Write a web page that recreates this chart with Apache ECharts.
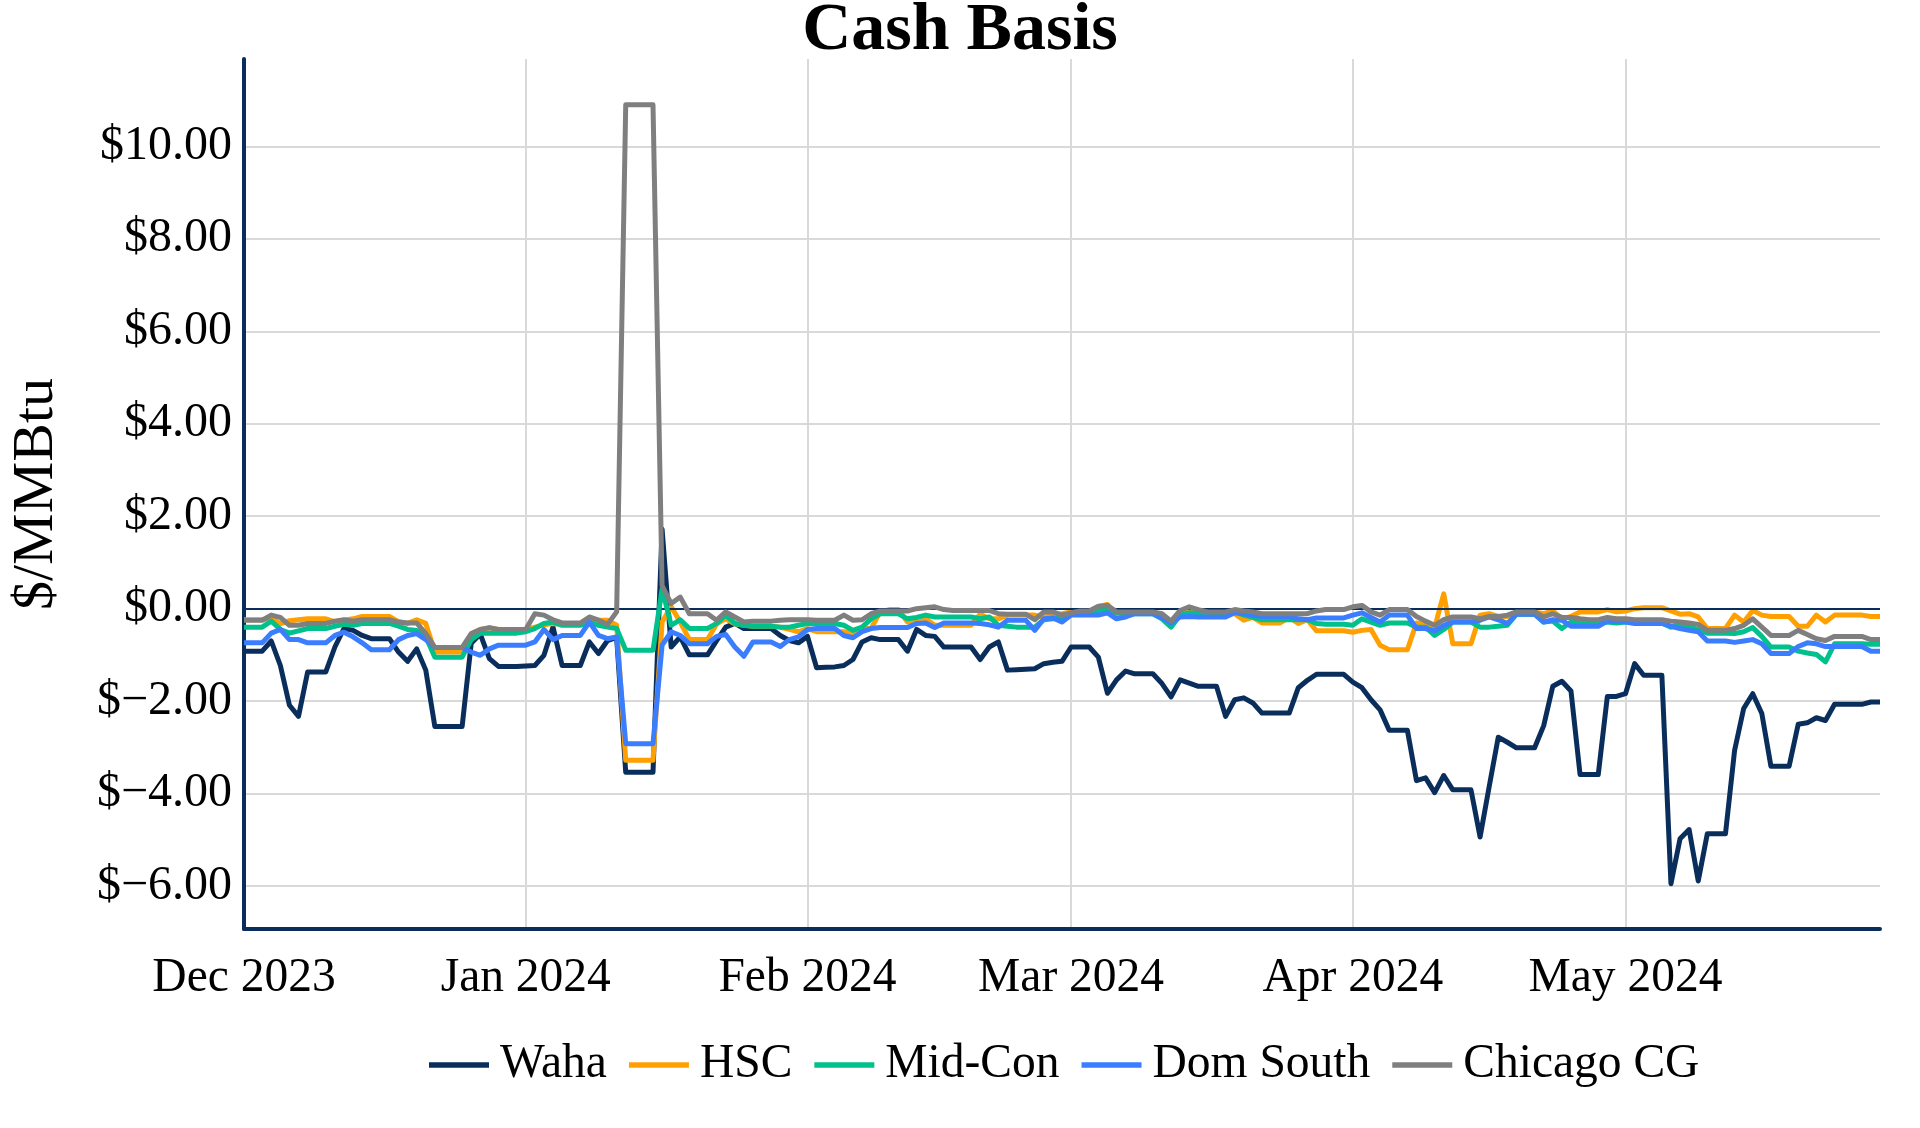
<!DOCTYPE html>
<html>
<head>
<meta charset="utf-8">
<script src="https://cdn.jsdelivr.net/npm/echarts@6/dist/echarts.min.js"></script>
<style>
  html, body { margin: 0; padding: 0; background: #ffffff; }
  #chart { width: 1920px; height: 1128px; }
</style>
</head>
<body>
<div id="chart"></div>
<script>
// ---- Data (daily, 2023-12-01 .. 2024-05-29) ----
const startDate = '2023-12-01';
const dayCount = 181;
const monthTickLabels = ['Dec 2023', 'Jan 2024', 'Feb 2024', 'Mar 2024', 'Apr 2024', 'May 2024'];
const seriesNames = ['Waha', 'HSC', 'Mid-Con', 'Dom South', 'Chicago CG'];

const wahaValues = [
  // Dec
  -0.92,-0.92,-0.92,-0.70,-1.23,-2.09,-2.33,-1.37,-1.37,-1.37,-0.83,-0.43,-0.47,-0.58,-0.65,-0.65,-0.65,-0.94,-1.14,-0.87,-1.33,-2.55,-2.55,-2.55,-2.55,-0.75,-0.55,-1.08,-1.25,-1.25,-1.25,
  // Jan
  -1.24,-1.23,-1.01,-0.40,-1.23,-1.23,-1.23,-0.72,-0.97,-0.69,-0.62,-3.54,-3.54,-3.54,-3.54,1.72,-0.83,-0.61,-1.00,-1.00,-1.00,-0.69,-0.40,-0.32,-0.43,-0.43,-0.43,-0.43,-0.58,-0.69,-0.74,
  // Feb
  -0.60,-1.28,-1.27,-1.26,-1.23,-1.10,-0.72,-0.63,-0.67,-0.67,-0.67,-0.92,-0.45,-0.58,-0.60,-0.83,-0.83,-0.83,-0.83,-1.10,-0.83,-0.72,-1.33,-1.32,-1.31,-1.30,-1.19,-1.16,-1.14,
  // Mar
  -0.83,-0.83,-0.83,-1.05,-1.83,-1.54,-1.35,-1.41,-1.41,-1.41,-1.62,-1.91,-1.54,-1.61,-1.68,-1.68,-1.68,-2.33,-1.97,-1.93,-2.04,-2.26,-2.26,-2.26,-2.26,-1.71,-1.55,-1.42,-1.42,-1.42,-1.42,
  // Apr
  -1.59,-1.71,-1.97,-2.19,-2.63,-2.63,-2.63,-3.72,-3.66,-3.98,-3.61,-3.92,-3.92,-3.92,-4.94,-3.85,-2.78,-2.89,-3.01,-3.01,-3.01,-2.53,-1.68,-1.57,-1.78,-3.59,-3.59,-3.59,-1.90,-1.90,
  // May
  -1.84,-1.19,-1.44,-1.44,-1.44,-5.95,-4.98,-4.78,-5.89,-4.87,-4.87,-4.87,-3.07,-2.16,-1.84,-2.27,-3.41,-3.41,-3.41,-2.50,-2.47,-2.36,-2.42,-2.07,-2.07,-2.07,-2.07,-2.02,-2.02
];

const hscValues = [
  -0.24,-0.24,-0.24,-0.20,-0.33,-0.26,-0.24,-0.22,-0.22,-0.22,-0.28,-0.25,-0.22,-0.17,-0.17,-0.17,-0.17,-0.28,-0.32,-0.24,-0.32,-0.94,-0.94,-0.94,-0.94,-0.55,-0.45,-0.42,-0.45,-0.45,-0.45,
  -0.45,-0.40,-0.35,-0.32,-0.34,-0.34,-0.34,-0.22,-0.25,-0.25,-0.36,-3.28,-3.28,-3.28,-3.28,-0.29,0.04,-0.29,-0.67,-0.67,-0.67,-0.33,-0.22,-0.33,-0.36,-0.38,-0.38,-0.38,-0.40,-0.45,-0.50,
  -0.43,-0.50,-0.50,-0.50,-0.50,-0.53,-0.43,-0.43,-0.07,-0.02,-0.02,-0.29,-0.29,-0.22,-0.36,-0.36,-0.36,-0.36,-0.36,-0.12,-0.22,-0.22,-0.14,-0.14,-0.14,-0.14,-0.18,-0.14,-0.11,
  -0.07,-0.05,-0.05,0.04,0.09,-0.18,-0.12,-0.09,-0.09,-0.09,-0.18,-0.32,-0.11,-0.07,-0.07,-0.07,-0.07,-0.07,-0.11,-0.25,-0.19,-0.31,-0.31,-0.31,-0.19,-0.32,-0.24,-0.48,-0.48,-0.48,-0.48,
  -0.51,-0.47,-0.45,-0.79,-0.89,-0.89,-0.89,-0.31,-0.34,-0.41,0.32,-0.76,-0.76,-0.76,-0.14,-0.11,-0.17,-0.17,-0.07,-0.07,-0.07,-0.11,-0.05,-0.22,-0.17,-0.07,-0.07,-0.07,-0.02,-0.07,
  -0.05,0.00,0.02,0.02,0.02,-0.05,-0.12,-0.11,-0.18,-0.43,-0.43,-0.43,-0.14,-0.29,-0.04,-0.14,-0.17,-0.17,-0.17,-0.38,-0.38,-0.14,-0.29,-0.14,-0.14,-0.14,-0.14,-0.17,-0.17
];

const midConValues = [
  -0.40,-0.40,-0.40,-0.27,-0.45,-0.53,-0.48,-0.43,-0.43,-0.43,-0.38,-0.34,-0.36,-0.32,-0.32,-0.32,-0.32,-0.38,-0.45,-0.47,-0.61,-1.05,-1.05,-1.05,-1.05,-0.67,-0.53,-0.53,-0.53,-0.53,-0.53,
  -0.50,-0.43,-0.32,-0.29,-0.36,-0.36,-0.36,-0.29,-0.36,-0.40,-0.43,-0.90,-0.90,-0.90,-0.90,0.43,-0.36,-0.24,-0.43,-0.43,-0.43,-0.32,-0.14,-0.32,-0.36,-0.38,-0.38,-0.38,-0.40,-0.40,-0.36,
  -0.32,-0.32,-0.32,-0.32,-0.36,-0.47,-0.40,-0.22,-0.11,-0.11,-0.11,-0.22,-0.19,-0.14,-0.18,-0.18,-0.18,-0.18,-0.18,-0.22,-0.18,-0.36,-0.38,-0.40,-0.40,-0.40,-0.24,-0.22,-0.18,
  -0.11,-0.07,-0.07,-0.04,0.00,-0.09,-0.11,-0.11,-0.11,-0.11,-0.22,-0.40,-0.14,-0.09,-0.11,-0.11,-0.11,-0.11,-0.05,-0.14,-0.19,-0.24,-0.24,-0.24,-0.24,-0.24,-0.24,-0.32,-0.34,-0.34,-0.34,
  -0.36,-0.22,-0.29,-0.36,-0.31,-0.31,-0.31,-0.40,-0.40,-0.58,-0.45,-0.29,-0.29,-0.29,-0.40,-0.40,-0.38,-0.36,-0.12,-0.12,-0.12,-0.29,-0.27,-0.43,-0.29,-0.29,-0.31,-0.31,-0.29,-0.31,
  -0.29,-0.29,-0.31,-0.31,-0.31,-0.40,-0.36,-0.40,-0.45,-0.53,-0.53,-0.53,-0.54,-0.50,-0.41,-0.60,-0.83,-0.83,-0.83,-0.92,-0.96,-0.99,-1.15,-0.76,-0.76,-0.76,-0.76,-0.77,-0.77
];

const domSouthValues = [
  -0.74,-0.74,-0.74,-0.53,-0.45,-0.67,-0.67,-0.74,-0.74,-0.74,-0.58,-0.51,-0.61,-0.74,-0.89,-0.89,-0.89,-0.67,-0.58,-0.54,-0.67,-0.84,-0.84,-0.84,-0.84,-0.94,-1.01,-0.87,-0.79,-0.79,-0.79,
  -0.79,-0.72,-0.45,-0.67,-0.58,-0.58,-0.58,-0.29,-0.58,-0.65,-0.61,-2.92,-2.92,-2.92,-2.92,-0.79,-0.50,-0.58,-0.76,-0.76,-0.76,-0.60,-0.56,-0.83,-1.03,-0.72,-0.72,-0.72,-0.82,-0.67,-0.61,
  -0.45,-0.43,-0.43,-0.43,-0.58,-0.63,-0.50,-0.43,-0.41,-0.41,-0.41,-0.41,-0.32,-0.31,-0.41,-0.31,-0.31,-0.31,-0.31,-0.32,-0.35,-0.40,-0.25,-0.25,-0.25,-0.47,-0.22,-0.20,-0.29,
  -0.14,-0.14,-0.14,-0.14,-0.09,-0.22,-0.18,-0.11,-0.11,-0.11,-0.20,-0.31,-0.18,-0.17,-0.18,-0.18,-0.18,-0.18,-0.09,-0.11,-0.14,-0.17,-0.17,-0.17,-0.17,-0.22,-0.24,-0.20,-0.20,-0.20,-0.20,
  -0.14,-0.09,-0.19,-0.29,-0.14,-0.14,-0.14,-0.43,-0.43,-0.48,-0.36,-0.29,-0.29,-0.29,-0.25,-0.18,-0.24,-0.32,-0.12,-0.12,-0.12,-0.29,-0.24,-0.25,-0.38,-0.38,-0.38,-0.38,-0.27,-0.27,
  -0.29,-0.32,-0.32,-0.32,-0.32,-0.38,-0.43,-0.47,-0.50,-0.70,-0.70,-0.70,-0.73,-0.70,-0.67,-0.76,-0.97,-0.97,-0.97,-0.82,-0.74,-0.76,-0.82,-0.82,-0.82,-0.82,-0.82,-0.92,-0.92
];

const chicagoValues = [
  -0.25,-0.25,-0.25,-0.14,-0.19,-0.36,-0.36,-0.32,-0.32,-0.32,-0.27,-0.24,-0.27,-0.24,-0.24,-0.24,-0.24,-0.29,-0.31,-0.31,-0.54,-0.84,-0.84,-0.84,-0.84,-0.54,-0.45,-0.41,-0.45,-0.45,-0.45,
  -0.45,-0.11,-0.14,-0.24,-0.31,-0.31,-0.31,-0.18,-0.25,-0.34,-0.07,10.90,10.90,10.90,10.90,0.50,0.11,0.25,-0.11,-0.11,-0.11,-0.25,-0.07,-0.18,-0.29,-0.27,-0.27,-0.27,-0.25,-0.24,-0.24,
  -0.24,-0.25,-0.25,-0.25,-0.14,-0.25,-0.24,-0.11,-0.05,-0.05,-0.05,-0.05,0.00,0.02,0.04,-0.02,-0.04,-0.04,-0.04,-0.04,-0.04,-0.11,-0.12,-0.12,-0.12,-0.24,-0.07,-0.07,-0.14,
  -0.09,-0.05,-0.05,0.05,0.07,-0.07,-0.07,-0.07,-0.07,-0.07,-0.11,-0.27,-0.04,0.04,-0.02,-0.07,-0.07,-0.07,-0.02,-0.05,-0.07,-0.11,-0.11,-0.11,-0.11,-0.11,-0.11,-0.05,-0.02,-0.02,-0.02,
  0.04,0.07,-0.07,-0.14,-0.02,-0.02,-0.02,-0.17,-0.27,-0.36,-0.24,-0.18,-0.18,-0.18,-0.22,-0.17,-0.17,-0.14,-0.07,-0.07,-0.07,-0.18,-0.11,-0.19,-0.19,-0.22,-0.24,-0.24,-0.19,-0.22,
  -0.22,-0.24,-0.24,-0.24,-0.24,-0.27,-0.29,-0.31,-0.34,-0.47,-0.47,-0.47,-0.43,-0.36,-0.22,-0.40,-0.58,-0.58,-0.58,-0.47,-0.56,-0.65,-0.69,-0.60,-0.60,-0.60,-0.60,-0.67,-0.67
];

const seriesColors = ['#0a2e5c', '#ffa000', '#00c08c', '#3a7dff', '#7f7f7f'];

// ---- Build date categories ----
const dates = [];
{
  const d0 = new Date(startDate + 'T00:00:00Z');
  for (let i = 0; i < dayCount; i++) {
    const d = new Date(d0.getTime() + i * 86400000);
    dates.push(d.toISOString().slice(0, 10));
  }
}
const monthStartLabel = {};
dates.filter(d => d.endsWith('-01')).forEach((d, i) => { monthStartLabel[d] = monthTickLabels[i]; });

const FONT = '"Liberation Serif", "Times New Roman", serif';
const navy = '#0a2e5c';
const grid = '#d9d9d9';

function money(v) {
  const s = Math.abs(v).toFixed(2);
  return v < 0 ? '$\u2212' + s : '$' + s;
}

const allValues = [wahaValues, hscValues, midConValues, domSouthValues, chicagoValues];

const series = seriesNames.map((name, i) => {
  const s = {
    name: name,
    type: 'line',
    data: allValues[i],
    symbol: 'none',
    showSymbol: false,
    lineStyle: { width: 5, color: seriesColors[i], join: 'round' },
    itemStyle: { color: seriesColors[i] },
    emphasis: { disabled: true },
    z: 3 + i
  };
  if (i === 0) {
    s.markLine = {
      silent: true,
      symbol: ['none', 'none'],
      label: { show: false },
      lineStyle: { color: navy, width: 2, type: 'solid' },
      data: [{ yAxis: 0 }],
      animation: false
    };
  }
  return s;
});

const chart = echarts.init(document.getElementById('chart'), null, { renderer: 'canvas' });
chart.setOption({
  animation: false,
  backgroundColor: '#ffffff',
  title: {
    text: 'Cash Basis',
    left: 'center',
    top: -8,
    textStyle: { fontFamily: FONT, fontSize: 68, fontWeight: 'bold', color: '#000' }
  },
  legend: {
    data: seriesNames,
    left: 424,
    top: 1036,
    icon: 'rect',
    itemWidth: 60,
    itemHeight: 5.5,
    itemGap: 22,
    textStyle: { fontFamily: FONT, fontSize: 47.5, color: '#000', padding: [0, 0, 0, 6] }
  },
  grid: { left: 242, right: 40, top: 59, bottom: 199, containLabel: false },
  xAxis: {
    type: 'category',
    data: dates,
    boundaryGap: false,
    axisLine: { show: true, onZero: false, lineStyle: { color: navy, width: 4 } },
    axisTick: { show: false },
    axisLabel: {
      interval: (idx, val) => val.endsWith('-01'),
      formatter: v => monthStartLabel[v] || '',
      fontFamily: FONT, fontSize: 47.5, color: '#000', margin: 26
    },
    splitLine: {
      show: true,
      interval: (idx, val) => val.endsWith('-01') && idx > 0,
      lineStyle: { color: grid, width: 2 }
    }
  },
  yAxis: {
    type: 'value',
    min: -6.93,
    max: 11.89,
    splitNumber: 9,
    minInterval: 2,
    maxInterval: 2,
    name: '$/MMBtu',
    nameLocation: 'middle',
    nameGap: 178,
    nameTextStyle: { fontFamily: FONT, fontSize: 58, color: '#000' },
    axisLine: { show: true, lineStyle: { color: navy, width: 4 } },
    axisTick: { show: false },
    axisLabel: {
      formatter: money,
      fontFamily: FONT, fontSize: 48, color: '#000', margin: 12,
      showMinLabel: false, showMaxLabel: false
    },
    splitLine: { show: true, showMinLine: false, showMaxLine: false, lineStyle: { color: grid, width: 2 } }
  },
  series: series
});
</script>
</body>
</html>
